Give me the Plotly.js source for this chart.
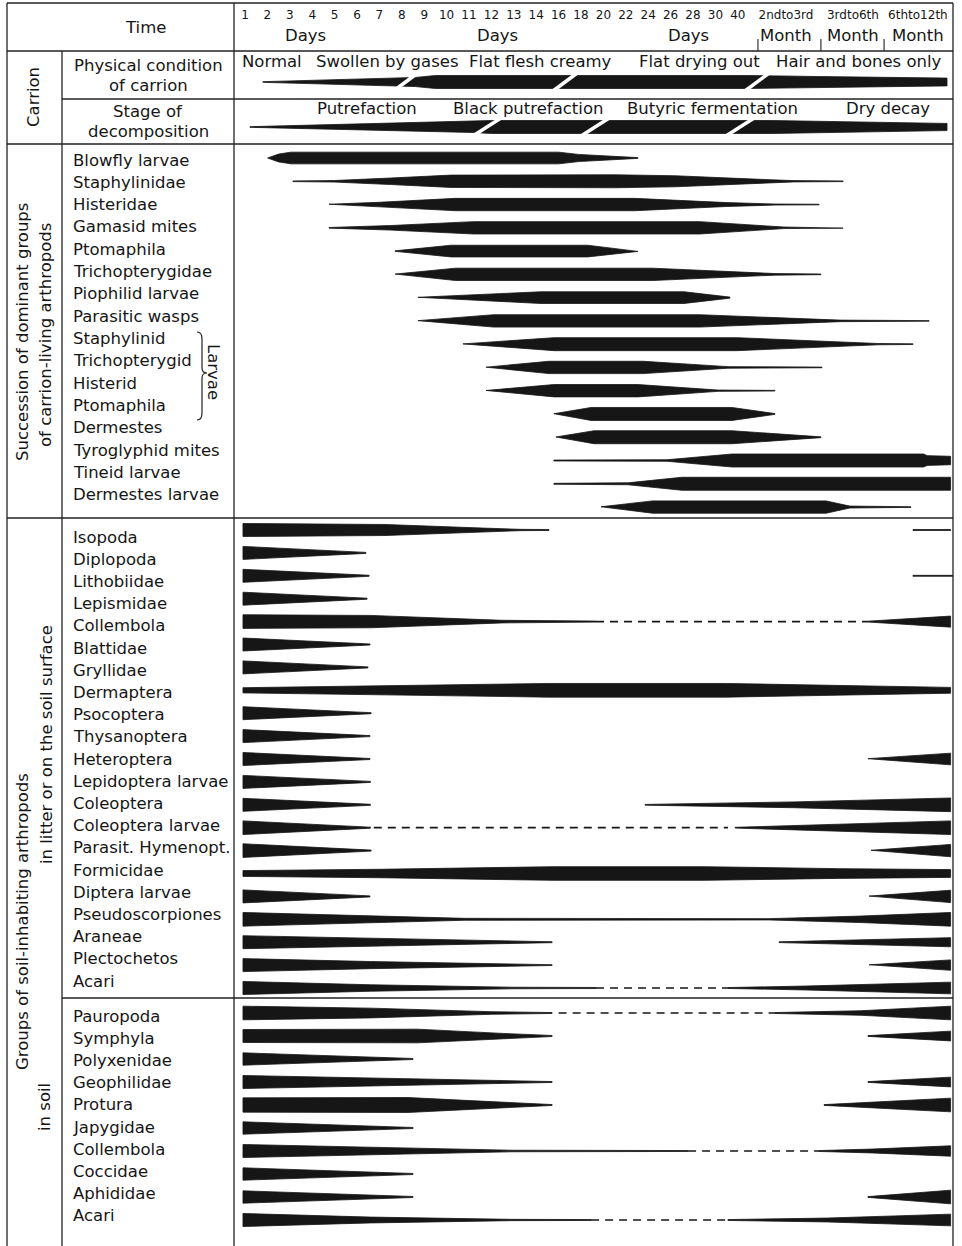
<!DOCTYPE html>
<html><head><meta charset="utf-8">
<script src="https://cdn.plot.ly/plotly-3.0.1.min.js"></script>
<style>html,body{margin:0;padding:0;background:#fff}#chart{width:962px;height:1246px}</style>
</head><body><div id="chart"></div>
<script>
// ================= DATA =================
// Time axis: slot units (one slot per printed day label)
const dayTickLabels = ['1','2','3','4','5','6','7','8','9','10','11','12','13','14','16','18','20','22','24','26','28','30','40'];
const dayTickPos = [1,2,3,4,5,6,7,8,9,10,11,12,13,14,15,16,17,18,19,20,21,22,23];
const monthTickLabels = ['2ndto3rd','3rdto6th','6thto12th'];
const monthTickPos = [25.15, 28.14, 31.04];
const monthBounds = [23.9, 26.71, 29.53];
const unitLabels = ['Days','Days','Days','Month','Month','Month'];
const unitLabelPos = [3.68, 12.25, 20.78, 25.15, 28.14, 31.04];

// Carrion condition / decomposition stages
const physLabels = ['Normal','Swollen by gases','Flat flesh creamy','Flat drying out','Hair and bones only'];
const physLabelPos = [2.21, 7.34, 14.17, 21.31, 28.41];
const physProfile = [[1.8,0.05],[8.6,0.7],[9.5,1.0],[23.5,1.0],[26.5,0.85],[32.34,0.6]];
const physBreaks = [8.17, 15.29, 23.86];
const stageLabels = ['Putrefaction','Black putrefaction','Butyric fermentation','Dry decay'];
const stageLabelPos = [6.45, 13.63, 21.89, 29.71];
const stageProfile = [[1.22,0.05],[11.2,0.85],[12.0,1.0],[24.5,1.0],[27.0,0.85],[32.34,0.55]];
const stageBreaks = [11.8, 16.63, 23.1];

// Succession of carrion-living arthropods: [slot, relative abundance] knots
const livingNames = ['Blowfly larvae','Staphylinidae','Histeridae','Gamasid mites','Ptomaphila','Trichopterygidae','Piophilid larvae','Parasitic wasps','Staphylinid','Trichopterygid','Histerid','Ptomaphila','Dermestes','Tyroglyphid mites','Tineid larvae','Dermestes larvae'];
const livingProfiles = [
 [[[2.01,0],[2.5,0.6],[3.05,0.9],[15.0,0.9],[15.9,0.55],[18.54,0.06]]],
 [[[3.14,0.05],[5.0,0.12],[7.5,0.5],[10.2,0.95],[17.5,1.0],[20.2,0.85],[24.0,0.3],[25.5,0.1],[27.7,0.05]]],
 [[[4.75,0.05],[7.0,0.35],[10.4,0.95],[18.4,0.95],[22.5,0.3],[24.66,0.08],[26.63,0.05]]],
 [[[4.75,0.05],[7.5,0.35],[11.2,0.95],[21.3,0.95],[25.06,0.12],[27.7,0.05]]],
 [[[7.7,0.04],[10.2,0.9],[16.3,0.9],[18.54,0.05]]],
 [[[7.7,0.04],[10.4,0.95],[19.2,0.95],[24.66,0.12],[26.71,0.05]]],
 [[[8.72,0.05],[11.5,0.45],[14.2,0.9],[20.6,0.9],[22.65,0.08]]],
 [[[8.72,0.04],[12.1,0.95],[21.3,0.95],[27.56,0.12],[31.54,0.04]]],
 [[[10.73,0.04],[14.8,1.0],[22.96,1.0],[29.26,0.1],[30.82,0.05]]],
 [[[11.76,0.04],[14.57,0.95],[18.77,0.95],[22.56,0.12],[26.76,0.05]]],
 [[[11.76,0.04],[14.8,0.95],[18.54,0.95],[22.12,0.1],[24.66,0.05]]],
 [[[14.79,0.04],[16.45,1.0],[22.74,1.0],[24.66,0.06]]],
 [[[14.88,0.04],[16.58,1.0],[22.74,1.0],[26.71,0.06]]],
 [[[14.79,0.07],[19.84,0.12],[22.74,1.0],[31.3,1.0],[31.45,0.75],[32.5,0.65]]],
 [[[14.79,0.07],[18.1,0.15],[20.5,1.0],[32.5,1.0]]],
 [[[16.89,0.04],[19.2,0.95],[26.94,0.95],[28.0,0.15],[30.73,0.05]]]
];
const livingDashes = livingNames.map(() => null);

// Soil-inhabiting arthropods in litter / on the soil surface
const litterNames = ['Isopoda','Diplopoda','Lithobiidae','Lepismidae','Collembola','Blattidae','Gryllidae','Dermaptera','Psocoptera','Thysanoptera','Heteroptera','Lepidoptera larvae','Coleoptera','Coleoptera larvae','Parasit. Hymenopt.','Formicidae','Diptera larvae','Pseudoscorpiones','Araneae','Plectochetos','Acari'];
const litterProfiles = [
 [[[0.91,1.0],[7.25,0.85],[11.6,0.3],[13.32,0.1],[14.57,0.07]], [[30.82,0.07],[32.5,0.07]]],
 [[[0.91,1.0],[6.4,0.08]]],
 [[[0.91,1.0],[6.54,0.08]], [[30.82,0.07],[32.6,0.07]]],
 [[[0.91,1.0],[6.45,0.08]]],
 [[[0.91,1.05],[6.63,0.95],[12.5,0.2],[16.67,0.08]], [[28.81,0.07],[32.5,0.85]]],
 [[[0.91,1.0],[6.58,0.08]]],
 [[[0.91,1.0],[6.49,0.08]]],
 [[[0.91,0.4],[6.6,0.65],[14.5,1.05],[22.5,1.05],[28.0,0.75],[32.5,0.45]]],
 [[[0.91,1.0],[6.63,0.08]]],
 [[[0.91,1.0],[6.58,0.08]]],
 [[[0.91,1.0],[6.58,0.08]], [[28.81,0.05],[32.5,0.9]]],
 [[[0.91,1.0],[6.6,0.08]]],
 [[[0.91,1.0],[6.6,0.08]], [[18.86,0.06],[25.5,0.45],[32.5,1.05]]],
 [[[0.91,1.05],[6.6,0.08]], [[22.88,0.06],[27.5,0.5],[32.5,1.05]]],
 [[[0.91,1.05],[6.63,0.08]], [[28.95,0.05],[32.5,0.95]]],
 [[[0.91,0.45],[7.0,0.65],[14.8,1.05],[21.5,1.05],[27.5,0.75],[32.5,0.6]]],
 [[[0.91,1.0],[6.58,0.08]], [[28.86,0.05],[32.5,0.95]]],
 [[[0.91,1.05],[6.6,0.5],[10.8,0.15],[24.4,0.1],[28.5,0.5],[32.5,1.05]]],
 [[[0.91,1.0],[6.6,0.6],[12.0,0.25],[14.71,0.07]], [[24.84,0.06],[32.5,0.7]]],
 [[[0.91,1.0],[6.6,0.55],[14.71,0.06]], [[28.86,0.05],[32.5,0.8]]],
 [[[0.91,1.0],[6.6,0.5],[12.92,0.12],[16.67,0.08]], [[22.56,0.07],[26.0,0.3],[32.5,0.9]]]
];
const litterDashes = [null,null,null,null,[16.67,28.81],null,null,null,null,null,null,null,null,[6.75,22.56],null,null,null,null,null,null,[16.67,22.56]];

// Soil-inhabiting arthropods in soil
const soilNames = ['Pauropoda','Symphyla','Polyxenidae','Geophilidae','Protura','Japygidae','Collembola','Coccidae','Aphididae','Acari'];
const soilProfiles = [
 [[[0.91,1.05],[6.6,0.75],[12.0,0.2],[14.71,0.07]], [[24.66,0.07],[28.5,0.35],[32.5,1.05]]],
 [[[0.91,1.0],[8.72,1.05],[12.5,0.4],[14.71,0.08]], [[28.81,0.06],[32.5,0.75]]],
 [[[0.91,0.95],[8.5,0.08]]],
 [[[0.91,1.0],[8.7,0.5],[14.71,0.07]], [[28.81,0.06],[32.5,0.75]]],
 [[[0.91,1.1],[8.28,1.15],[11.5,0.6],[14.71,0.07]], [[26.85,0.06],[32.5,1.05]]],
 [[[0.91,0.95],[8.5,0.08]]],
 [[[0.91,1.0],[6.6,0.55],[12.92,0.12],[20.78,0.07]], [[26.63,0.07],[29.0,0.3],[32.5,0.8]]],
 [[[0.91,0.95],[8.5,0.08]]],
 [[[0.91,0.95],[8.5,0.08]], [[28.81,0.06],[32.5,1.05]]],
 [[[0.91,1.0],[6.6,0.45],[12.92,0.1],[16.45,0.07]], [[22.56,0.07],[27.0,0.3],[32.5,0.9]]]
];
const soilDashes = [[15.0,24.66],null,null,null,null,null,[20.78,26.63],null,null,[16.45,22.56]];

// ================= LAYOUT / DRAWING =================
const FONT = 'DejaVu Sans, Liberation Sans, Arial, sans-serif';
const INK = '#161616';
const PW = 962, PH = 1246;
const PX0 = 245, PXSLOT = 22.4;          // pixel of slot 1 and width of one slot
const PLOT_L = 234, PLOT_R = 953;
const slotAt = px => 1 + (px - PX0) / PXSLOT;
const HALF = 6.5;                        // half thickness (px) of abundance 1.0
const px = x => x / PW;                  // paper x from pixels

const sections = [
  {names: livingNames, profiles: livingProfiles, dashes: livingDashes, labelTop: 160, labelStep: 22.33, kiteTop: 158, kiteStep: 23.27},
  {names: litterNames, profiles: litterProfiles, dashes: litterDashes, labelTop: 537, labelStep: 22.2, kiteTop: 530, kiteStep: 22.9},
  {names: soilNames, profiles: soilProfiles, dashes: soilDashes, labelTop: 1016, labelStep: 22.2, kiteTop: 1013, kiteStep: 23.0}
];

const polyX = [], polyY = [], dashX = [], dashY = [], cutX = [], cutY = [];
function addPiece(piece, yc) {
  piece.forEach(k => { polyX.push(k[0]); polyY.push(yc - k[1] * HALF); });
  for (let i = piece.length - 1; i >= 0; i--) { polyX.push(piece[i][0]); polyY.push(yc + piece[i][1] * HALF); }
  polyX.push(piece[0][0]); polyY.push(yc - piece[0][1] * HALF);
  polyX.push(null); polyY.push(null);
}
const annotations = [];
function label(text, x, y, opts) {
  annotations.push(Object.assign({text: text, x: x, y: y, xref: 'paper', yref: 'y', showarrow: false,
    xanchor: 'center', yanchor: 'middle', font: {family: FONT, size: 16.5, color: INK}}, opts || {}));
}

sections.forEach(sec => {
  sec.names.forEach((name, i) => {
    label(name, px(71), sec.labelTop + i * sec.labelStep, {xanchor: 'left'});
    const yc = sec.kiteTop + i * sec.kiteStep;
    sec.profiles[i].forEach(p => addPiece(p, yc));
    const d = sec.dashes[i];
    if (d) { dashX.push(d[0], d[1], null); dashY.push(yc, yc, null); }
  });
});

// carrion rows
const PHYS_Y = 82, STAGE_Y = 127;
addPiece(physProfile, PHYS_Y);
addPiece(stageProfile, STAGE_Y);
physBreaks.forEach(b => { cutX.push(b - 0.6, b + 0.6, null); cutY.push(PHYS_Y + 10, PHYS_Y - 10, null); });
stageBreaks.forEach(b => { cutX.push(b - 0.7, b + 0.7, null); cutY.push(STAGE_Y + 10, STAGE_Y - 10, null); });
physLabels.forEach((t, i) => annotations.push({text: t, x: physLabelPos[i], y: 61, xref: 'x', yref: 'y', showarrow: false, xanchor: 'center', yanchor: 'middle', font: {family: FONT, size: 16.5, color: INK}}));
stageLabels.forEach((t, i) => annotations.push({text: t, x: stageLabelPos[i], y: 108, xref: 'x', yref: 'y', showarrow: false, xanchor: 'center', yanchor: 'middle', font: {family: FONT, size: 16.5, color: INK}}));
unitLabels.forEach((t, i) => annotations.push({text: t, x: unitLabelPos[i], y: 35, xref: 'x', yref: 'y', showarrow: false, xanchor: 'center', yanchor: 'middle', font: {family: FONT, size: 16.5, color: INK}}));

// header / row labels
label('Time', px(145), 27);
label('Physical condition', px(148), 65);
label('of carrion', px(148), 85);
label('Stage of', px(148), 111);
label('decomposition', px(148), 131);
label('Carrion', px(33), 97, {textangle: -90});
label('Succession of dominant groups', px(22), 332, {textangle: -90});
label('of carrion-living arthropods', px(45), 335, {textangle: -90});
label('Groups of soil-inhabiting arthropods', px(22), 922, {textangle: -90});
label('in litter or on the soil surface', px(46), 745, {textangle: -90});
label('in soil', px(44), 1107, {textangle: -90});
label('Larvae', px(214), 372, {textangle: 90});

// table rules
const line = (x0, y0, x1, y1, w) => ({type: 'line', xref: 'paper', yref: 'y', x0: px(x0), x1: px(x1), y0: y0, y1: y1, line: {color: '#222', width: w || 1.3}});
const shapes = [
  line(7, 3, 953, 3), line(7, 3, 7, 1246), line(953, 3, 953, 1246),
  line(62, 51, 62, 1246), line(234, 3, 234, 1246),
  line(7, 51, 953, 51), line(62, 99, 953, 99), line(7, 144, 953, 144),
  line(7, 518, 953, 518), line(62, 998, 953, 998)
];
monthBounds.forEach(b => shapes.push({type: 'line', xref: 'x', yref: 'y', x0: b, x1: b, y0: 39, y1: 51, line: {color: '#222', width: 1.1}}));
// brace for larvae
const bx = [197, 202, 207].map(px), by1 = 332, bym = 373, by2 = 420;
shapes.push({type: 'path', xref: 'paper', yref: 'y', line: {color: '#222', width: 1.2},
  path: `M ${bx[0]},${by1} Q ${bx[1]},${by1} ${bx[1]},${by1 + 7} L ${bx[1]},${bym - 5} Q ${bx[1]},${bym} ${bx[2]},${bym} Q ${bx[1]},${bym} ${bx[1]},${bym + 5} L ${bx[1]},${by2 - 7} Q ${bx[1]},${by2} ${bx[0]},${by2}`});

const traces = [
  {type: 'scatter', mode: 'lines', x: polyX, y: polyY, fill: 'toself', fillcolor: INK, line: {color: INK, width: 0.8}, hoverinfo: 'skip'},
  {type: 'scatter', mode: 'lines', x: dashX, y: dashY, line: {color: INK, width: 1.7, dash: '8px,6px'}, hoverinfo: 'skip'},
  {type: 'scatter', mode: 'lines', x: cutX, y: cutY, line: {color: '#ffffff', width: 3.5}, hoverinfo: 'skip'}
];

const layout = {
  width: PW, height: PH, margin: {l: 0, r: 0, t: 0, b: 0}, showlegend: false,
  paper_bgcolor: '#fff', plot_bgcolor: '#fff',
  xaxis: {domain: [PLOT_L / PW, PLOT_R / PW], range: [slotAt(PLOT_L), slotAt(PLOT_R)], side: 'top', anchor: 'free',
    position: 1 - 21 / PH, showgrid: false, zeroline: false, showline: false, ticks: '', tickangle: 0,
    tickvals: dayTickPos.concat(monthTickPos), ticktext: dayTickLabels.concat(monthTickLabels),
    tickfont: {family: FONT, size: 12, color: INK}, fixedrange: true},
  yaxis: {domain: [0, 1], range: [PH, 0], visible: false, fixedrange: true},
  shapes: shapes, annotations: annotations
};
Plotly.newPlot('chart', traces, layout, {staticPlot: true});
</script></body></html>
